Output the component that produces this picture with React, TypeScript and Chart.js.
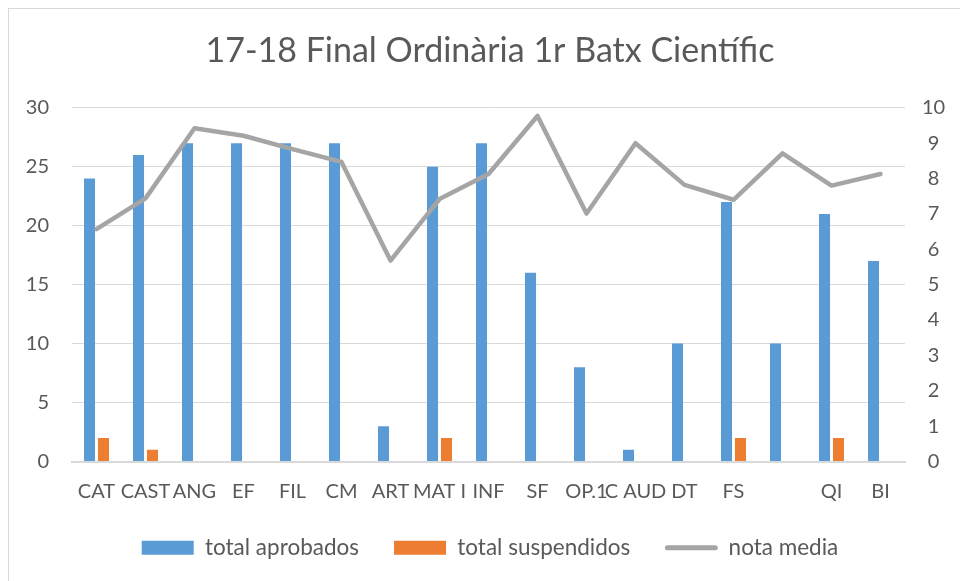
import React, { useEffect, useRef } from "react";
import { Chart, registerables } from "chart.js";

Chart.register(...registerables);

const categories = ["CAT", "CAST", "ANG", "EF", "FIL", "CM", "ART", "MAT I", "INF", "SF", "OP.1", "C AUD", "DT", "FS", "", "QI", "BI"];
const totalAprobados = [24, 26, 27, 27, 27, 27, 3, 25, 27, 16, 8, 1, 10, 22, 10, 21, 17];
const totalSuspendidos = [2, 1, 0, 0, 0, 0, 0, 2, 0, 0, 0, 0, 0, 2, 0, 2, 0];
const notaMedia = [6.57, 7.44, 9.42, 9.21, 8.83, 8.47, 5.68, 7.42, 8.13, 9.77, 7.01, 9.0, 7.82, 7.4, 8.71, 7.8, 8.13];
const leftTicks = [0, 5, 10, 15, 20, 25, 30];
const rightTicks = [0, 1, 2, 3, 4, 5, 6, 7, 8, 9, 10];

const FONT = "Lato";
const TEXT = "#595959";
const GRID = "#d9d9d9";

const legendLinePlugin = {
  id: "legendLine",
  afterDraw(chart: any) {
    const legend = chart.legend;
    if (!legend || !legend.legendHitBoxes) return;
    const items = legend.legendItems || [];
    items.forEach((it: any, i: number) => {
      if (it.datasetIndex !== 2) return;
      const hb = legend.legendHitBoxes[i];
      const bw = legend.options.labels.boxWidth;
      const ctx = chart.ctx;
      ctx.save();
      ctx.strokeStyle = "#A5A5A5";
      ctx.lineWidth = 5;
      ctx.lineCap = "round";
      ctx.beginPath();
      const y = hb.top + hb.height / 2;
      ctx.moveTo(hb.left + 2, y);
      ctx.lineTo(hb.left + bw - 2, y);
      ctx.stroke();
      ctx.restore();
    });
  },
};

export default function App() {
  const ref = useRef<HTMLCanvasElement | null>(null);
  useEffect(() => {
    if (!ref.current) return;
    const chart = new Chart(ref.current, {
      type: "bar",
      data: {
        labels: categories,
        datasets: [
          {
            type: "bar",
            label: "total aprobados",
            data: totalAprobados,
            backgroundColor: "#5B9BD5",
            yAxisID: "y",
            order: 1,
            categoryPercentage: 0.57,
            barPercentage: 0.79,
          },
          {
            type: "bar",
            label: "total suspendidos",
            data: totalSuspendidos,
            backgroundColor: "#ED7D31",
            yAxisID: "y",
            order: 1,
            categoryPercentage: 0.57,
            barPercentage: 0.79,
          },
          {
            type: "line",
            label: "nota media",
            data: notaMedia,
            borderColor: "#A5A5A5",
            backgroundColor: "#A5A5A5",
            borderWidth: 4.5,
            pointRadius: 0,
            tension: 0,
            yAxisID: "y1",
            order: 0,
            borderJoinStyle: "round",
            borderCapStyle: "round",
          } as any,
        ],
      },
      options: {
        animation: false,
        responsive: false,
        maintainAspectRatio: false,
        layout: { padding: { left: 20, right: 0, top: 0, bottom: 12 } },
        plugins: {
          tooltip: { enabled: false },
          title: {
            display: true,
            text: "17-18 Final Ordinària 1r Batx Científic",
            color: TEXT,
            font: { family: FONT, size: 34, weight: "normal" },
            padding: { top: 31, bottom: 36 },
          },
          legend: {
            position: "bottom",
            labels: {
              color: TEXT,
              font: { family: FONT, size: 22.5 },
              boxWidth: 52,
              boxHeight: 14,
              padding: 35,
              sort: (a: any, b: any) => a.datasetIndex - b.datasetIndex,
              generateLabels: (ch: any) => {
                const base = Chart.defaults.plugins.legend.labels.generateLabels(ch);
                return base.map((it: any) => {
                  if (it.datasetIndex === 2) {
                    return { ...it, fillStyle: "rgba(0,0,0,0)", strokeStyle: "rgba(0,0,0,0)", lineWidth: 0 };
                  }
                  return { ...it, lineWidth: 0 };
                });
              },
            },
          },
        },
        scales: {
          x: {
            grid: { display: false, drawTicks: false },
            border: { display: true, color: GRID, width: 2 },
            ticks: {
              color: TEXT,
              font: { family: FONT, size: 20 },
              autoSkip: false,
              maxRotation: 0,
              minRotation: 0,
              padding: 18,
            },
            afterFit: (s: any) => {
              s.height = 40;
            },
          },
          y: {
            position: "left",
            min: 0,
            max: 30,
            afterBuildTicks: (s: any) => {
              s.ticks = leftTicks.map((v) => ({ value: v }));
            },
            grid: { color: GRID, lineWidth: 1, drawTicks: false },
            border: { display: false },
            ticks: {
              color: TEXT,
              font: { family: FONT, size: 20 },
              padding: 23,
            },
            afterFit: (s: any) => {
              s.width = 52;
            },
          },
          y1: {
            position: "right",
            min: 0,
            max: 10,
            afterBuildTicks: (s: any) => {
              s.ticks = rightTicks.map((v) => ({ value: v }));
            },
            grid: { display: false, drawTicks: false },
            border: { display: false },
            ticks: {
              color: TEXT,
              font: { family: FONT, size: 20 },
              padding: 17,
              crossAlign: "center",
            },
            afterFit: (s: any) => {
              s.width = 55;
            },
          },
        },
      },
      plugins: [legendLinePlugin],
    });
    return () => chart.destroy();
  }, []);

  return (
    <div style={{ position: "fixed", left: 0, top: 0, width: 960, height: 581, background: "#fff", overflow: "hidden" }}>
      <div
        style={{
          position: "absolute",
          left: 8,
          top: 8,
          width: 980,
          height: 600,
          borderLeft: "1px solid #d9d9d9",
          borderTop: "1px solid #d9d9d9",
        }}
      />
      <canvas ref={ref} width={960} height={581} style={{ position: "absolute", left: 0, top: 0, width: 960, height: 581 }} />
    </div>
  );
}
